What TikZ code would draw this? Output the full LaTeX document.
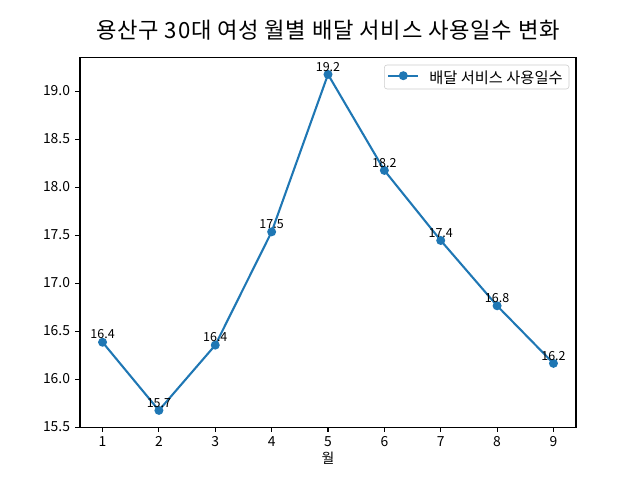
\documentclass[tikz,border=0pt]{standalone}
\usepackage{fontspec}
\setmainfont{Noto Sans CJK KR}
\definecolor{tabblue}{HTML}{1F77B4}
\definecolor{legendgray}{HTML}{CCCCCC}

\begin{document}
\begin{tikzpicture}[x=0.72pt, y=0.72pt,
        ticklabel/.style={font=\fontsize{10}{12}\selectfont, inner sep=0pt},
        datalabel/.style={font=\fontsize{9}{11}\selectfont, inner sep=0pt, anchor=base, yshift=2.4pt},
        datadot/.style={circle, fill=tabblue, inner sep=0pt, minimum size=6.5pt},
        dataline/.style={tabblue, line width=1.5pt}]
        \useasboundingbox (0,0) rectangle (640,480);

        \node[font=\fontsize{16}{19}\selectfont\addfontfeature{LetterSpace=3.5}, anchor=base] (title) at (328,441.5) {용산구 30대 여성 월별 배달 서비스 사용일수 변화};

        % ticks
        \foreach \v [count=\i] in {15.5,16.0,16.5,17.0,17.5,18.0,18.5,19.0} {
            \draw[line width=0.8pt] (80,{52.8+(\v-15.505)*96}) -- ++(-4.86,0);
            \node[ticklabel, anchor=mid east] (ylab\i) at (70.3,{52.8+(\v-15.505)*96}) {\v};
        }
        \foreach \m in {1,...,9} {
            \draw[line width=0.8pt] ({80+(\m-0.6)*56.364},52.8) -- ++(0,-4.86);
            \node[ticklabel, anchor=base] (xlab\m) at ({80+(\m-0.6)*56.364},33) {\m};
        }
        \node[ticklabel, anchor=base] (xname) at (328,16.5) {월};

        % data
        \foreach \m/\v in {1/16.39, 2/15.68, 3/16.36, 4/17.54, 5/19.18, 6/18.18, 7/17.45, 8/16.77, 9/16.17} {
            \coordinate (p\m) at ({80+(\m-0.6)*56.364},{52.8+(\v-15.505)*96});
        }
        \draw[dataline, line join=round] (p1) -- (p2) -- (p3) -- (p4) -- (p5) -- (p6) -- (p7) -- (p8) -- (p9);
        \foreach \m/\t in {1/16.4, 2/15.7, 3/16.4, 4/17.5, 5/19.2, 6/18.2, 7/17.4, 8/16.8, 9/16.2} {
            \node[datadot] (dot\m) at (p\m) {};
            \node[datalabel] (val\m) at (p\m) {\t};
        }

        \draw[line width=0.8pt] (80,52.8) rectangle (576,422.4);

        % legend
        \draw[legendgray, fill=white, rounded corners=2pt] (384.3,391) rectangle (569,415);
        \coordinate (keyl) at (388.3,404.3);
        \coordinate (keyr) at (418.3,404.3);
        \draw[dataline] (keyl) -- (keyr);
        \node[datadot] (keydot) at (403.3,404.3) {};
        \node[font=\fontsize{11}{13}\selectfont, inner sep=0pt, anchor=base west] (keytext) at (429,396) {배달 서비스 사용일수};
    \end{tikzpicture}
\end{document}
